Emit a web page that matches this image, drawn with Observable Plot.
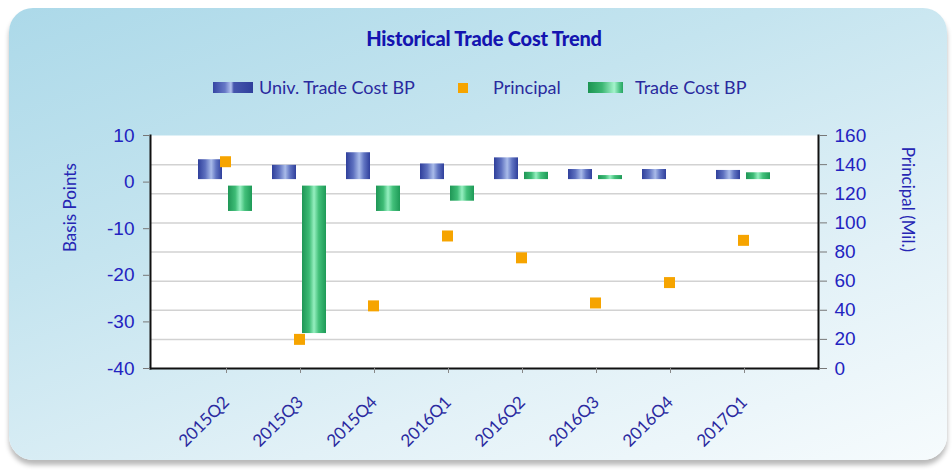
<!DOCTYPE html>
<html><head><meta charset="utf-8">
<script src="https://cdn.jsdelivr.net/npm/d3@7"></script>
<script src="https://cdn.jsdelivr.net/npm/@observablehq/plot@0.6"></script>
<style>
html,body{margin:0;padding:0;background:#fff;width:952px;height:470px;overflow:hidden;font-family:Lato,sans-serif;}
#panel{position:absolute;left:9px;top:8px;width:938px;height:452px;border-radius:24px;background:linear-gradient(160deg,#acd9e9 0%,#c4e4ef 35%,#e2f1f7 70%,#f6fbfd 100%);box-shadow:0 5px 5px rgba(0,0,0,0.28);}
#title{position:absolute;left:0;width:968px;top:26px;line-height:24px;text-align:center;font-weight:900;font-size:20px;color:#1414b0;letter-spacing:-0.2px;}
.lg{position:absolute;top:78px;line-height:19px;font-size:18px;color:#2a2a9e;white-space:nowrap;}
.sw{position:absolute;}
#chart{position:absolute;left:0;top:110px;}
</style></head>
<body>
<div id="panel"></div>
<div id="title">Historical Trade Cost Trend</div>
<div class="sw" style="left:213px;top:82px;width:40px;height:11px;background:linear-gradient(90deg,#3646a4 0%,#6678c6 30%,#b3c2ee 45%,#4656ad 52%,#2f3f9c 100%);"></div>
<div class="lg" style="left:259px;">Univ. Trade Cost BP</div>
<div class="sw" style="left:458px;top:83px;width:10px;height:10px;background:#f6a400;"></div>
<div class="lg" style="left:493px;">Principal</div>
<div class="sw" style="left:588px;top:82px;width:35px;height:11px;background:linear-gradient(90deg,#1c9452 0%,#3cb673 40%,#a4f3cc 75%,#4cc485 90%,#27a461 100%);"></div>
<div class="lg" style="left:635px;">Trade Cost BP</div>
<div id="chart"></div>
<script>
const categories = ["2015Q2","2015Q3","2015Q4","2016Q1","2016Q2","2016Q3","2016Q4","2017Q1"];
const univTradeCostBP = [4.8, 3.6, 6.3, 3.9, 5.2, 2.7, 2.7, 2.5];
const tradeCostBP = [-6.3, -32.5, -6.3, -4.1, 2.1, 1.4, 0, 2.0];
const principal = [142, 20, 43, 91, 76, 45, 59, 88];
const leftTicks = [-40, -30, -20, -10, 0, 10];
const rightTicks = [0, 20, 40, 60, 80, 100, 120, 140, 160];

const toLeft = p => -40 + p * (50 / 160);
const rows = categories.map((c, i) => ({c, univ: univTradeCostBP[i], trade: tradeCostBP[i], p: principal[i]}));
const tickFill = "#2323c0";
const numFont = "'Liberation Sans', Arial, sans-serif";

const plot = Plot.plot({
  width: 952, height: 350,
  marginTop: 25, marginBottom: 92, marginLeft: 150, marginRight: 134,
  style: {background: "transparent", fontFamily: "Lato, sans-serif", overflow: "visible"},
  x: {type: "band", domain: categories, paddingInner: 0.272, paddingOuter: 0.636},
  y: {domain: [-40, 10]},
  marks: [
    Plot.frame({fill: "white", stroke: null}),
    Plot.gridY(rightTicks.filter(t => t > 0 && t < 160).map(toLeft), {stroke: "#d2d2d2", strokeOpacity: 1, strokeWidth: 1.5}),
    Plot.barY(rows, {x: "c", y: "univ", fill: "url(#gBlue)", insetRight: 30, insetBottom: 2.5}),
    Plot.barY(rows.filter(d => d.trade < 0), {x: "c", y: "trade", fill: "url(#gGreen)", insetLeft: 30, insetTop: 4}),
    Plot.barY(rows.filter(d => d.trade > 0), {x: "c", y: "trade", fill: "url(#gGreen)", insetLeft: 30, insetBottom: 2.5}),
    Plot.dot(rows, {x: "c", y: d => toLeft(d.p), symbol: "square", r: 6.2, fill: "#f6a400", stroke: null}),
    Plot.frame({anchor: "left", stroke: "#111", strokeWidth: 2}),
    Plot.frame({anchor: "right", stroke: "#111", strokeWidth: 2}),
    Plot.frame({anchor: "bottom", stroke: "#111", strokeWidth: 2}),
    Plot.axisY({anchor: "left", ticks: leftTicks, tickFormat: d => String(d), tickSize: 7, tickPadding: 9,
      fontSize: 19, fontFamily: numFont, fill: tickFill, stroke: "#777", label: null}),
    Plot.axisY({anchor: "right", ticks: rightTicks.map(toLeft), tickFormat: (d, i) => String(rightTicks[i]), tickSize: 8, tickPadding: 8,
      fontSize: 19, fontFamily: numFont, fill: tickFill, stroke: "#777", label: null}),
    Plot.axisX({tickRotate: -45, tickSize: 5, tickPadding: 26, dx: 1, fontSize: 17, fill: "#2a2aa0", stroke: "#888", label: null}),
    Plot.text(["Basis Points"], {frameAnchor: "left", dx: -80, rotate: -90, fontSize: 17, fill: "#2626b4"}),
    Plot.text(["Principal (Mil.)"], {frameAnchor: "right", dx: 89, rotate: 90, fontSize: 17, fill: "#2626b4"})
  ]
});

const defs = d3.select(plot).insert("defs", ":first-child");
const gb = defs.append("linearGradient").attr("id", "gBlue").attr("x1", 0).attr("x2", 1).attr("y1", 0).attr("y2", 0);
[[0, "#2f3f9b"], [0.3, "#5d70bf"], [0.55, "#a9bbe9"], [0.75, "#6074c2"], [1, "#2f3f9b"]].forEach(([o, c]) => gb.append("stop").attr("offset", o).attr("stop-color", c));
const gg = defs.append("linearGradient").attr("id", "gGreen").attr("x1", 0).attr("x2", 1).attr("y1", 0).attr("y2", 0);
[[0, "#1f9656"], [0.3, "#3dbb75"], [0.5, "#95efc0"], [0.7, "#42c07a"], [1, "#1e9a57"]].forEach(([o, c]) => gg.append("stop").attr("offset", o).attr("stop-color", c));

document.getElementById("chart").appendChild(plot);
</script>
</body></html>
